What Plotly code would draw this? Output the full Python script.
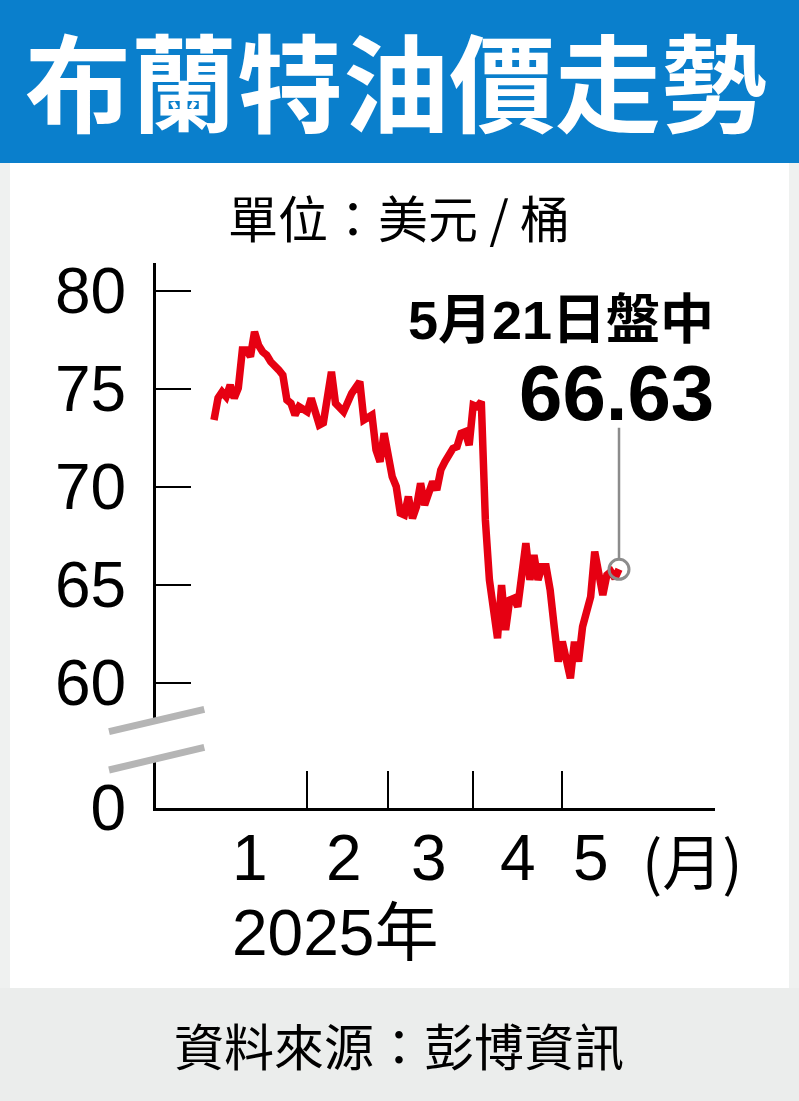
import plotly.graph_objects as go

W, H = 799, 1101

# Brent daily prices (USD / barrel)
trade_dates = [
    "2025-01-01", "2025-01-02", "2025-01-03", "2025-01-06", "2025-01-07",
    "2025-01-08", "2025-01-09", "2025-01-10", "2025-01-13", "2025-01-14",
    "2025-01-15", "2025-01-16", "2025-01-17", "2025-01-20", "2025-01-21",
    "2025-01-22", "2025-01-23", "2025-01-24", "2025-01-27", "2025-01-28",
    "2025-01-29", "2025-01-30", "2025-02-03", "2025-02-04", "2025-02-06",
    "2025-02-07", "2025-02-10", "2025-02-11", "2025-02-12", "2025-02-14",
    "2025-02-18", "2025-02-20", "2025-02-21", "2025-02-25", "2025-02-26",
    "2025-02-27", "2025-02-28", "2025-03-03", "2025-03-04", "2025-03-05",
    "2025-03-06", "2025-03-07", "2025-03-10", "2025-03-11", "2025-03-12",
    "2025-03-13", "2025-03-14", "2025-03-17", "2025-03-18", "2025-03-19",
    "2025-03-20", "2025-03-21", "2025-03-25", "2025-03-26", "2025-03-27",
    "2025-03-28", "2025-03-31", "2025-04-01", "2025-04-02", "2025-04-03",
    "2025-04-04", "2025-04-07", "2025-04-09", "2025-04-10", "2025-04-11",
    "2025-04-14", "2025-04-15", "2025-04-16", "2025-04-18", "2025-04-21",
    "2025-04-22", "2025-04-23", "2025-04-24", "2025-04-25", "2025-04-28",
    "2025-04-29", "2025-04-30", "2025-05-01", "2025-05-02", "2025-05-05",
    "2025-05-06", "2025-05-07", "2025-05-08", "2025-05-12", "2025-05-13",
    "2025-05-14", "2025-05-15", "2025-05-16", "2025-05-19", "2025-05-20",
    "2025-05-21",
]
brent_close = [
    73.42, 74.54, 74.85, 74.61, 75.20,
    74.54, 75.05, 76.99, 76.99, 76.65,
    77.92, 77.24, 76.90, 76.73, 76.39,
    76.22, 75.97, 75.71, 74.44, 74.27,
    73.67, 74.10, 73.84, 74.53, 73.16,
    73.27, 74.53, 75.88, 74.27, 73.84,
    74.78, 75.37, 73.42, 73.67, 71.89,
    71.29, 72.74, 71.38, 70.53, 70.02,
    68.66, 68.57, 69.51, 68.40, 69.00,
    70.19, 69.08, 69.68, 70.27, 69.85,
    70.87, 71.29, 71.97, 72.06, 72.74,
    72.82, 72.14, 74.18, 74.10, 74.35,
    68.32, 65.26, 62.28, 65.00, 62.70,
    64.23, 64.32, 63.89, 67.13, 65.26,
    66.53, 65.26, 65.93, 65.93, 64.74,
    62.87, 61.09, 62.11, 61.17, 60.24,
    62.11, 61.09, 62.87, 64.40, 66.70,
    65.77, 64.49, 65.51, 65.68, 65.34,
    65.80,
]

y_ticks = [60, 65, 70, 75, 80]
axis_floor = 53.62          # bottom of the broken axis, labelled "0"
axis_top = 81.43
# first trading day of each month (month-start Saturdays fall inside the weekend breaks)
month_ticks = ["2025-02-03", "2025-03-03", "2025-04-01", "2025-05-01"]
month_label_dates = ["2025-01-14", "2025-02-14", "2025-03-17", "2025-04-16", "2025-05-12"]
month_labels = ["1", "2", "3", "4", "5"]
x_range = ["2024-12-11 16:19", "2025-06-23 16:48"]

callout_date = "5月21日盤中"
callout_price = "66.63"

NUM = "Liberation Sans, Arial, Noto Sans CJK TC, sans-serif"
CJK = "Noto Sans CJK TC, sans-serif"
BLUE = "#0a7fcc"
RED = "#e60012"
GREY = "#8c8c8c"


def px(x):
    return x / W


def py(y):
    return 1 - y / H


fig = go.Figure()

fig.add_trace(go.Scatter(
    x=trade_dates, y=brent_close, mode="lines",
    line=dict(color=RED, width=7.5), hoverinfo="skip",
))
fig.add_trace(go.Scatter(
    x=trade_dates[-1:], y=brent_close[-1:], mode="markers",
    marker=dict(symbol="circle-open", size=20, color=GREY, line=dict(width=3, color=GREY)),
    hoverinfo="skip",
))

shapes = [
    # background panels
    dict(type="rect", xref="paper", yref="paper", x0=0, x1=1, y0=py(163), y1=1,
         fillcolor=BLUE, line=dict(width=0), layer="below"),
    dict(type="rect", xref="paper", yref="paper", x0=px(10), x1=px(789), y0=py(988), y1=py(163),
         fillcolor="white", line=dict(width=0), layer="below"),
    dict(type="rect", xref="paper", yref="paper", x0=0, x1=1, y0=0, y1=py(988),
         fillcolor="#ebedec", line=dict(width=0), layer="below"),
    # axis break
    dict(type="path", xref="paper", yref="paper",
         path=f"M {px(112)} {py(731)} L {px(200)} {py(710)} L {px(200)} {py(748)} L {px(112)} {py(769)} Z",
         fillcolor="white", line=dict(width=0), layer="above"),
    dict(type="line", xref="paper", yref="paper", x0=px(109), y0=py(731.7), x1=px(204.3), y1=py(709.3),
         line=dict(color="#b5b5b5", width=7), layer="above"),
    dict(type="line", xref="paper", yref="paper", x0=px(109), y0=py(770), x1=px(204.3), y1=py(747.3),
         line=dict(color="#b5b5b5", width=7), layer="above"),
]

annotations = [
    dict(text="布蘭特油價走勢", x=px(396), y=py(78), font=dict(family=CJK, size=106, color="white", weight="bold")),
    dict(text="單位：美元 / 桶", x=px(399), y=py(216), font=dict(family=CJK, size=50, color="black")),
    dict(text="資料來源：彭博資訊", x=px(399), y=py(1044), font=dict(family=CJK, size=50, color="black")),
    dict(text="(月)", x=px(692), y=py(858), font=dict(family=CJK, size=60, color="black")),
    dict(text="2025年", x=px(335), y=py(933), font=dict(family=NUM, size=64, color="black")),
    dict(text=callout_date, x=px(716), y=py(320), xanchor="right",
         font=dict(family=NUM, size=54, color="black", weight="bold")),
    dict(text=callout_price, x=px(716), y=py(393), xanchor="right",
         font=dict(family=NUM, size=78, color="black", weight="bold")),
]
for a in annotations:
    a.update(xref="paper", yref="paper", showarrow=False)
    a.setdefault("xanchor", "center")
    a.setdefault("yanchor", "middle")

for d, lab in zip(month_label_dates, month_labels):
    annotations.append(dict(text=lab, x=d, xref="x", y=py(858), yref="paper", showarrow=False,
                            xanchor="center", yanchor="middle",
                            font=dict(family=NUM, size=64, color="black")))

# leader line from the last point up to the callout
annotations.append(dict(x=trade_dates[-1], y=brent_close[-1], xref="x", yref="y", text="",
                        showarrow=True, arrowhead=0, arrowwidth=2.5, arrowcolor=GREY,
                        ax=0, ay=-143, standoff=11))

fig.update_layout(
    width=W, height=H,
    margin=dict(l=0, r=0, t=0, b=0, autoexpand=False),
    paper_bgcolor="#eff1f0",
    plot_bgcolor="rgba(0,0,0,0)",
    showlegend=False,
    shapes=shapes,
    annotations=annotations,
    xaxis=dict(
        domain=[px(156), px(715)],
        type="date", range=x_range,
        rangebreaks=[dict(bounds=["sat", "mon"])],
        tickvals=month_ticks, ticktext=[""] * len(month_ticks),
        ticks="inside", ticklen=37, tickwidth=2, tickcolor="black",
        showline=True, linewidth=3, linecolor="black",
        showgrid=False, zeroline=False, automargin=False,
    ),
    yaxis=dict(
        domain=[py(808), py(263)],
        range=[axis_floor, axis_top],
        tickvals=[axis_floor] + y_ticks,
        ticktext=["0"] + [str(v) for v in y_ticks],
        ticks="inside", ticklen=35, tickwidth=2, tickcolor="black",
        ticklabelstandoff=14,
        tickfont=dict(family=NUM, size=64, color="black"),
        showline=True, linewidth=3, linecolor="black",
        showgrid=False, zeroline=False, automargin=False,
    ),
)

# drop the browser's default body margin so the figure sits at the page corner
fig.write_html("out.html", config={"displayModeBar": False},
               post_script="document.body.style.margin='0';")
